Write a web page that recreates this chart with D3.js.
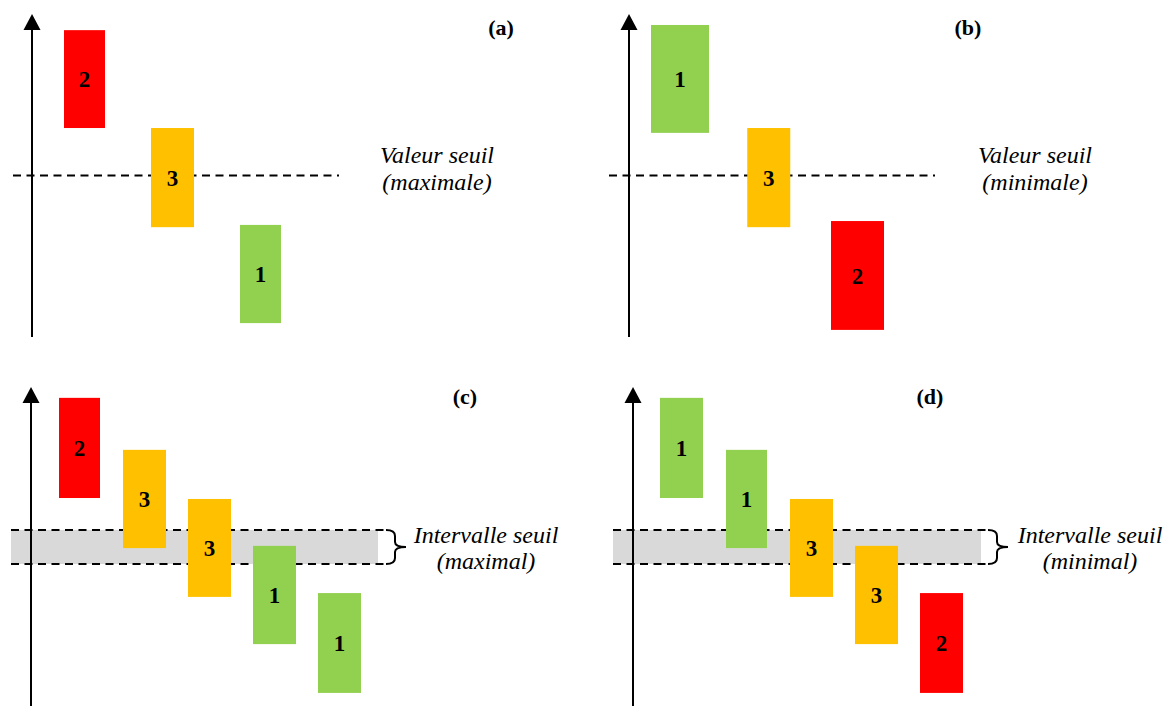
<!DOCTYPE html>
<html><head><meta charset="utf-8">
<script src="https://cdn.jsdelivr.net/npm/d3@7"></script>
<style>html,body{margin:0;padding:0;background:#fff;}svg{display:block;}</style>
</head><body><svg id="chart" width="1171" height="706"></svg>
<script>
// ---------- DATA ----------
const panelTitles = ["(a)", "(b)", "(c)", "(d)"];
const classesA = [2, 3, 1];
const lowA  = [6.47, 3.40, 0.43];
const highA = [9.50, 6.47, 3.47];
const classesB = [1, 3, 2];
const lowB  = [6.32, 3.40, 0.22];
const highB = [9.66, 6.47, 3.59];
const classesC = [2, 3, 3, 1, 1];
const lowC  = [6.52, 4.95, 3.42, 1.94, 0.41];
const highC = [9.66, 8.03, 6.49, 5.02, 3.54];
const classesD = [1, 1, 3, 3, 2];
const lowD  = [6.52, 4.95, 3.42, 1.94, 0.41];
const highD = [9.66, 8.03, 6.49, 5.02, 3.54];
const thresholdA = 5.0;
const thresholdB = 5.0;
const intervalC = [4.45, 5.52];
const intervalD = [4.45, 5.52];
const labelA = ["Valeur seuil", "(maximale)"];
const labelB = ["Valeur seuil", "(minimale)"];
const labelC = ["Intervalle seuil", "(maximal)"];
const labelD = ["Intervalle seuil", "(minimal)"];
const yDomain = [0, 10];

// ---------- STYLE / LAYOUT ----------
const classColors = {1: "#92D050", 2: "#FF0000", 3: "#FFC000"};
const bandFill = "#D9D9D9";
const svg = d3.select("#chart");

const panels = [
  {title: panelTitles[0], cls: classesA, lo: lowA, hi: highA, thr: [thresholdA], label: labelA,
   axisX: 32, yRange: [337, 14], xRange: [84.5, 260.5], widths: [41, 43, 41],
   lineX: [13, 339], titleXY: [501, 27], labelX: 437, labelY: [163, 190]},
  {title: panelTitles[1], cls: classesB, lo: lowB, hi: highB, thr: [thresholdB], label: labelB,
   axisX: 629, yRange: [337, 14], xRange: [680, 857.5], widths: [58, 43, 53],
   lineX: [609, 935], titleXY: [968, 27], labelX: 1035, labelY: [163, 190]},
  {title: panelTitles[2], cls: classesC, lo: lowC, hi: highC, thr: intervalC, label: labelC,
   axisX: 31, yRange: [706, 387], xRange: [79.5, 339.5], widths: [41, 43, 43, 43, 43],
   lineX: [11, 386], grayEnd: 378, titleXY: [465, 396], labelX: 486, labelY: [543, 569]},
  {title: panelTitles[3], cls: classesD, lo: lowD, hi: highD, thr: intervalD, label: labelD,
   axisX: 633, yRange: [706, 387], xRange: [681.5, 941.5], widths: [43, 41, 43, 43, 43],
   lineX: [613, 988], grayEnd: 981, titleXY: [930, 396], labelX: 1090, labelY: [543, 569]}
];

panels.forEach(p => {
  const g = svg.append("g");
  const y = d3.scaleLinear().domain(yDomain).range(p.yRange);
  const x = d3.scalePoint().domain(d3.range(p.cls.length)).range(p.xRange);
  const tipY = y(yDomain[1]);

  // threshold band (interval)
  if (p.thr.length === 2) {
    g.append("rect")
      .attr("x", p.lineX[0]).attr("width", p.grayEnd - p.lineX[0])
      .attr("y", y(p.thr[1])).attr("height", y(p.thr[0]) - y(p.thr[1]))
      .attr("fill", bandFill);
  }

  // threshold dashed lines (behind bars)
  p.thr.forEach(t => {
    g.append("line")
      .attr("x1", p.lineX[0]).attr("x2", p.lineX[1])
      .attr("y1", y(t)).attr("y2", y(t))
      .attr("stroke", "#000").attr("stroke-width", 2)
      .attr("stroke-dasharray", "8,5.5");
  });

  // brace for interval
  if (p.thr.length === 2) {
    const top = y(p.thr[1]), bot = y(p.thr[0]), mid = (top + bot) / 2;
    const x0 = p.lineX[1], xm = x0 + 9, xt = x0 + 20;
    const path = `M${x0},${top} Q${xm},${top} ${xm},${top + 6} L${xm},${mid - 5} Q${xm},${mid} ${xt},${mid}
                  Q${xm},${mid} ${xm},${mid + 5} L${xm},${bot - 6} Q${xm},${bot} ${x0},${bot}`;
    g.append("path").attr("d", path).attr("fill", "none")
      .attr("stroke", "#000").attr("stroke-width", 2);
  }

  // y axis with arrow
  g.append("line")
    .attr("x1", p.axisX).attr("x2", p.axisX)
    .attr("y1", y(yDomain[0])).attr("y2", tipY + 12)
    .attr("stroke", "#000").attr("stroke-width", 2);
  g.append("path")
    .attr("d", `M${p.axisX},${tipY} L${p.axisX - 8.5},${tipY + 16} L${p.axisX + 8.5},${tipY + 16} Z`)
    .attr("fill", "#000");

  // bars
  const data = p.cls.map((c, i) => ({c, lo: p.lo[i], hi: p.hi[i], i}));
  g.selectAll("rect.bar").data(data).join("rect")
    .attr("class", "bar")
    .attr("x", d => x(d.i) - p.widths[d.i] / 2)
    .attr("width", d => p.widths[d.i])
    .attr("y", d => y(d.hi))
    .attr("height", d => y(d.lo) - y(d.hi))
    .attr("fill", d => classColors[d.c]);

  g.selectAll("text.cls").data(data).join("text")
    .attr("class", "cls")
    .attr("x", d => x(d.i))
    .attr("y", d => (y(d.lo) + y(d.hi)) / 2)
    .attr("dy", "0.35em")
    .attr("text-anchor", "middle")
    .attr("font-family", "'Liberation Serif', serif")
    .attr("font-weight", "bold")
    .attr("font-size", 23)
    .attr("fill", "#000")
    .text(d => d.c);

  // panel title
  g.append("text")
    .attr("x", p.titleXY[0]).attr("y", p.titleXY[1]).attr("dy", "0.35em")
    .attr("text-anchor", "middle")
    .attr("font-family", "'Liberation Serif', serif")
    .attr("font-weight", "bold").attr("font-size", 22)
    .text(p.title);

  // threshold label
  p.label.forEach((s, k) => {
    g.append("text")
      .attr("x", p.labelX).attr("y", p.labelY[k])
      .attr("text-anchor", "middle")
      .attr("font-family", "'Liberation Serif', serif")
      .attr("font-style", "italic").attr("font-size", 24)
      .text(s);
  });
});
</script></body></html>
